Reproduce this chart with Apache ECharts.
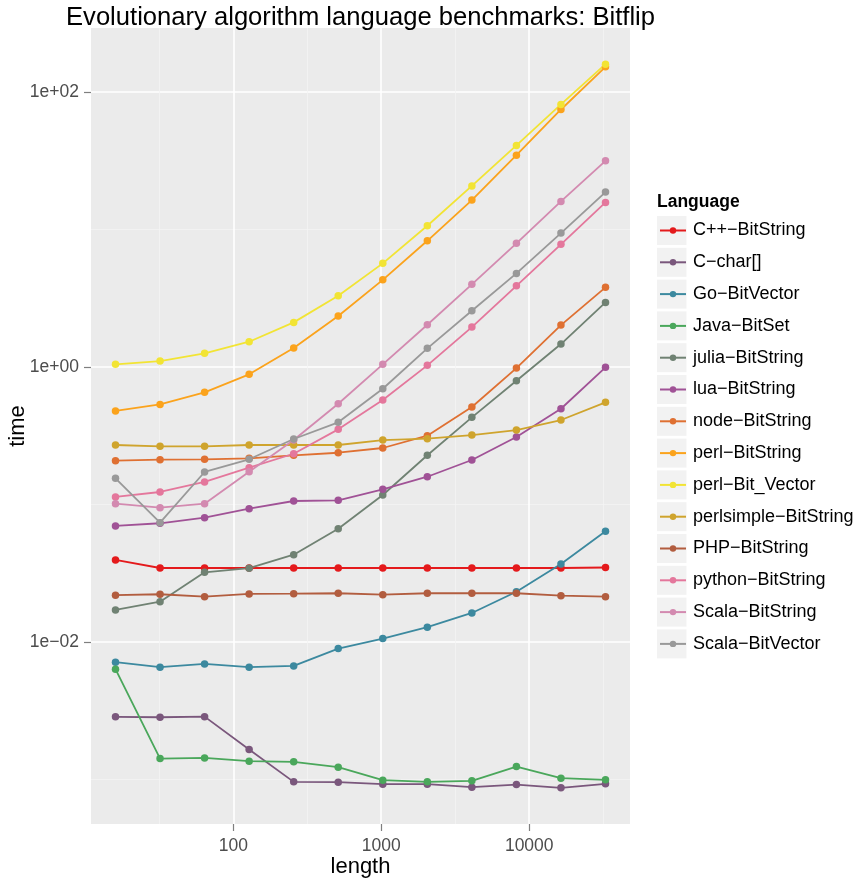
<!DOCTYPE html>
<html>
<head>
<meta charset="utf-8">
<script src="https://cdn.jsdelivr.net/npm/echarts@6/dist/echarts.min.js"></script>
<style>
  html, body { margin: 0; padding: 0; background: #ffffff; }
  #chart { width: 861px; height: 880px; }
</style>
</head>
<body>
<div id="chart"></div>
<script>
// Problem sizes (bit string length)
const lengths = [16, 32, 64, 128, 256, 512, 1024, 2048, 4096, 8192, 16384, 32768];

// Language / implementation names, in legend order
const languages = [
  'C++\u2212BitString', 'C\u2212char[]', 'Go\u2212BitVector', 'Java\u2212BitSet',
  'julia\u2212BitString', 'lua\u2212BitString', 'node\u2212BitString', 'perl\u2212BitString',
  'perl\u2212Bit_Vector', 'perlsimple\u2212BitString', 'PHP\u2212BitString',
  'python\u2212BitString', 'Scala\u2212BitString', 'Scala\u2212BitVector'
];

// Time (seconds) per implementation, one value per length
const cppBitString        = [0.0395, 0.0345, 0.0345, 0.0345, 0.0345, 0.0345, 0.0345, 0.0345, 0.0345, 0.0345, 0.0345, 0.0348];
const cChar               = [0.00285, 0.00283, 0.00286, 0.00165, 0.000959, 0.000954, 0.000923, 0.000923, 0.000878, 0.000917, 0.000868, 0.000928];
const goBitVector         = [0.00712, 0.00655, 0.00692, 0.00655, 0.00669, 0.00894, 0.01057, 0.0128, 0.01625, 0.0232, 0.0369, 0.0638];
const javaBitSet          = [0.00633, 0.001417, 0.001433, 0.001357, 0.001341, 0.001227, 0.000987, 0.000959, 0.000976, 0.001239, 0.00102, 0.000992];
const juliaBitString      = [0.0171, 0.01963, 0.0321, 0.0344, 0.0431, 0.0667, 0.1173, 0.228, 0.4307, 0.795, 1.47, 2.954];
const luaBitString        = [0.0698, 0.0730, 0.0802, 0.0932, 0.106, 0.1073, 0.129, 0.1592, 0.2107, 0.3097, 0.4974, 0.995];
const nodeBitString       = [0.2083, 0.2118, 0.2132, 0.2168, 0.228, 0.238, 0.2576, 0.3165, 0.512, 0.983, 2.02, 3.80];
const perlBitString       = [0.479, 0.535, 0.655, 0.885, 1.375, 2.35, 4.31, 8.29, 16.4, 34.8, 74.8, 152.8];
const perlBitVector       = [1.046, 1.106, 1.258, 1.528, 2.113, 3.30, 5.68, 10.66, 20.8, 40.97, 81.4, 159.8];
const perlsimpleBitString = [0.2709, 0.265, 0.265, 0.2709, 0.2709, 0.2709, 0.2944, 0.301, 0.320, 0.348, 0.4116, 0.5538];
const phpBitString        = [0.02187, 0.02222, 0.02136, 0.02234, 0.02245, 0.0226, 0.02208, 0.0226, 0.0226, 0.0226, 0.02172, 0.02136];
const pythonBitString     = [0.1134, 0.1233, 0.1458, 0.1852, 0.234, 0.352, 0.575, 1.029, 1.954, 3.90, 7.81, 15.77];
const scalaBitString      = [0.1014, 0.0948, 0.1014, 0.1732, 0.2944, 0.541, 1.046, 2.03, 3.995, 7.94, 16.03, 31.65];
const scalaBitVector      = [0.155, 0.0737, 0.1724, 0.2132, 0.2995, 0.396, 0.695, 1.368, 2.568, 4.80, 9.43, 18.74];

const timings = [
  cppBitString, cChar, goBitVector, javaBitSet, juliaBitString, luaBitString,
  nodeBitString, perlBitString, perlBitVector, perlsimpleBitString, phpBitString,
  pythonBitString, scalaBitString, scalaBitVector
];

// Set1 palette stretched over 14 groups
const colors = [
  '#E41A1C', '#7A577C', '#3C899F', '#4AA75B', '#708273', '#A05296', '#DF7032',
  '#FBA31C', '#F2E434', '#CFA42D', '#B25D3F', '#E4779C', '#D38AB0', '#999999'
];

const FONT = '"Liberation Sans", Arial, Helvetica, sans-serif';

// Axis ranges in log10 space, padded by 5% like ggplot's default expansion
function logRange(vals) {
  const logs = vals.map(Math.log10);
  const lo = Math.min(...logs), hi = Math.max(...logs);
  const pad = (hi - lo) * 0.05;
  return [lo - pad, hi + pad];
}
const [xLo, xHi] = logRange(lengths);
const [yLo, yHi] = logRange([].concat(...timings));

// Labelled breaks (log10 exponents)
const xBreaks = [], yBreaks = [];
for (let k = Math.ceil(xLo); k <= Math.floor(xHi); k++) xBreaks.push(k);
for (let k = Math.ceil(yLo / 2) * 2; k <= yHi; k += 2) yBreaks.push(k);

function sciLabel(v) {
  const e = Math.round(v);
  return '1e' + (e < 0 ? '\u2212' : '+') + String(Math.abs(e)).padStart(2, '0');
}

const chart = echarts.init(document.getElementById('chart'), null, { renderer: 'canvas' });

const GRID = { left: 91, right: 231, top: 28, bottom: 56 };
const tickStyle = { color: '#7F7F7F', width: 1.2 };
const majorLine = { color: '#FFFFFF', width: 1.6 };
const minorLine = { color: '#F4F4F4', width: 0.8 };

// Lines are drawn first for every group, then points on top (ggplot layer order)
const lineSeries = languages.map((name, i) => ({
  type: 'line',
  name: name,
  xAxisIndex: 0,
  yAxisIndex: 0,
  data: lengths.map((len, j) => [len, timings[i][j]]),
  symbol: 'circle',
  showSymbol: false,
  lineStyle: { color: colors[i], width: 1.8 },
  itemStyle: { color: colors[i] },
  z: 2,
  silent: true,
  animation: false
}));
const pointSeries = languages.map((name, i) => ({
  type: 'scatter',
  name: name,
  xAxisIndex: 0,
  yAxisIndex: 0,
  data: lengths.map((len, j) => [len, timings[i][j]]),
  symbol: 'circle',
  symbolSize: 7.5,
  itemStyle: { color: colors[i], opacity: 1 },
  z: 3,
  silent: true,
  animation: false
}));

// Legend key backgrounds
const LEG_FIRST = 230.5, LEG_PITCH = 31.8;
const keyBoxes = languages.map((_, k) => ({
  type: 'rect',
  silent: true,
  z: 0,
  shape: { x: 657, y: LEG_FIRST + k * LEG_PITCH - 14.5, width: 29.5, height: 29 },
  style: { fill: '#F2F2F2' }
}));

chart.setOption({
  animation: false,
  backgroundColor: '#FFFFFF',
  textStyle: { fontFamily: FONT },
  title: [
    {
      text: 'Evolutionary algorithm language benchmarks: Bitflip',
      left: (GRID.left + 861 - GRID.right) / 2,
      textAlign: 'center',
      top: 5,
      padding: 0,
      textStyle: { fontFamily: FONT, fontSize: 25.6, fontWeight: 'normal', color: '#000000' }
    },
    {
      text: 'Language',
      left: 657,
      top: 193,
      padding: 0,
      textStyle: { fontFamily: FONT, fontSize: 17.5, fontWeight: 'bold', color: '#000000' }
    }
  ],
  grid: {
    left: GRID.left, right: GRID.right, top: GRID.top, bottom: GRID.bottom,
    show: true, backgroundColor: '#EBEBEB', borderWidth: 0,
    containLabel: false, outerBoundsMode: 'none'
  },
  legend: {
    data: languages,
    orient: 'vertical',
    left: 659,
    top: LEG_FIRST - 9,
    padding: 0,
    itemWidth: 26,
    itemHeight: 8,
    itemGap: LEG_PITCH - 18,
    selectedMode: false,
    textStyle: { fontFamily: FONT, fontSize: 18, color: '#000000', lineHeight: 18, padding: [0, 0, 0, 2] }
  },
  graphic: keyBoxes,
  xAxis: [
    {
      type: 'log', logBase: 10,
      min: Math.pow(10, xLo), max: Math.pow(10, xHi),
      show: false
    },
    {
      type: 'value',
      min: xLo, max: xHi,
      minInterval: 1, maxInterval: 1,
      position: 'bottom',
      name: 'length',
      nameLocation: 'middle',
      nameGap: 32,
      nameMoveOverlap: false,
      nameTextStyle: { fontFamily: FONT, fontSize: 22, color: '#000000' },
      axisLine: { show: false },
      axisTick: { show: true, length: 7, lineStyle: tickStyle, customValues: xBreaks },
      axisLabel: {
        customValues: xBreaks,
        margin: 13,
        fontFamily: FONT, fontSize: 17.5, color: '#4D4D4D',
        formatter: v => String(Math.round(Math.pow(10, v)))
      },
      splitLine: { show: true, lineStyle: majorLine },
      minorTick: { show: false, splitNumber: 2 },
      minorSplitLine: { show: true, lineStyle: minorLine }
    }
  ],
  yAxis: [
    {
      type: 'log', logBase: 10,
      min: Math.pow(10, yLo), max: Math.pow(10, yHi),
      show: false
    },
    {
      type: 'value',
      min: yLo, max: yHi,
      minInterval: 2, maxInterval: 2,
      position: 'left',
      name: 'time',
      nameLocation: 'middle',
      nameGap: 62,
      nameMoveOverlap: false,
      nameTextStyle: { fontFamily: FONT, fontSize: 22, color: '#000000' },
      axisLine: { show: false },
      axisTick: { show: true, length: 7, lineStyle: tickStyle, customValues: yBreaks },
      axisLabel: {
        customValues: yBreaks,
        margin: 12,
        fontFamily: FONT, fontSize: 17.5, color: '#4D4D4D',
        formatter: sciLabel
      },
      splitLine: { show: true, lineStyle: majorLine },
      minorTick: { show: false, splitNumber: 2 },
      minorSplitLine: { show: true, lineStyle: minorLine }
    }
  ],
  series: lineSeries.concat(pointSeries)
});
</script>
</body>
</html>
